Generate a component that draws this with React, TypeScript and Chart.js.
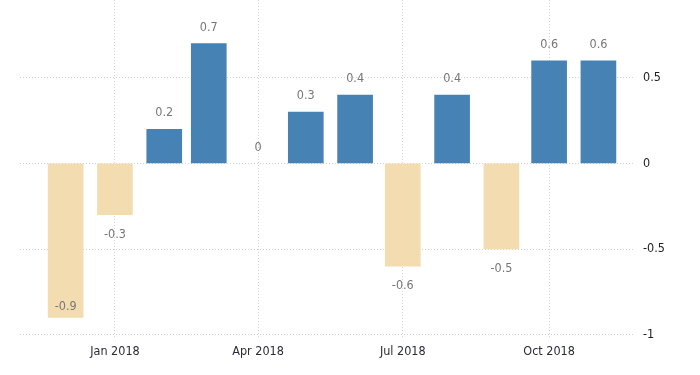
import React, { useEffect, useRef } from "react";
import { Chart, registerables } from "chart.js";

Chart.register(...registerables);

const months = [
  "2017-12", "2018-01", "2018-02", "2018-03", "2018-04", "2018-05",
  "2018-06", "2018-07", "2018-08", "2018-09", "2018-10", "2018-11",
];
const values = [-0.9, -0.3, 0.2, 0.7, 0, 0.3, 0.4, -0.6, 0.4, -0.5, 0.6, 0.6];
const xTickMonths = ["2018-01", "2018-04", "2018-07", "2018-10"];
const xTickLabels = ["Jan 2018", "Apr 2018", "Jul 2018", "Oct 2018"];
const yTicks = [-1, -0.5, 0, 0.5];

const POS = "#4682b4";
const NEG = "#f3dcb0";
const FONT = '"Liberation Sans Narrow", "DejaVu Sans Condensed", "Roboto", sans-serif';

const origin = Date.UTC(2017, 11, 1);
function dayOf(m: string): number {
  const [y, mo] = m.split("-").map(Number);
  return (Date.UTC(y, mo - 1, 1) - origin) / 86400000;
}

const labelPlugin = {
  id: "barLabels",
  afterDatasetsDraw(chart: any) {
    const ctx = chart.ctx;
    const meta = chart.getDatasetMeta(0);
    const area = chart.chartArea;
    ctx.save();
    ctx.font = `12.5px ${FONT}`;
    ctx.fillStyle = "#777777";
    ctx.textAlign = "center";
    ctx.textBaseline = "middle";
    meta.data.forEach((el: any, i: number) => {
      const v = values[i];
      const txt = String(v);
      let ty: number;
      if (v >= 0) {
        ty = el.y - 16;
      } else {
        ty = el.y + 20;
        if (ty + 8 > area.bottom - 5) ty = el.y - 11;
      }
      ctx.fillText(txt, el.x, ty);
    });
    ctx.restore();
  },
};

export default function App() {
  const ref = useRef<HTMLCanvasElement | null>(null);
  useEffect(() => {
    if (!ref.current) return;
    const chart = new Chart(ref.current, {
      type: "bar",
      data: {
        datasets: [
          {
            data: months.map((m, i) => ({ x: dayOf(m), y: values[i] })),
            backgroundColor: values.map((v) => (v > 0 ? POS : v < 0 ? NEG : "rgba(0,0,0,0)")),
            borderWidth: 0,
            barThickness: 35,
          },
        ],
      },
      options: {
        animation: false,
        responsive: false,
        maintainAspectRatio: false,
        layout: { padding: { left: 20, right: 0, top: 0, bottom: 0 } },
        plugins: { legend: { display: false }, tooltip: { enabled: false } },
        scales: {
          x: {
            type: "linear",
            offset: false,
            min: -28.7,
            max: 358,
            grid: { color: "#d2d2d2", drawTicks: false, lineWidth: 1, offset: false },
            border: { display: false, dash: [1, 2] },
            afterBuildTicks: (scale: any) => {
              scale.ticks = xTickMonths.map((m) => ({ value: dayOf(m) }));
            },
            afterFit: (scale: any) => {
              scale.height = 37;
              scale.paddingLeft = 0;
              scale.paddingRight = 0;
            },
            ticks: {
              autoSkip: false,
              maxRotation: 0,
              padding: 6,
              color: "#2b2b3a",
              font: { family: FONT, size: 12.5 },
              callback: (v: any) => {
                const idx = xTickMonths.findIndex((m) => dayOf(m) === v);
                return idx >= 0 ? xTickLabels[idx] : "";
              },
            },
          },
          y: {
            position: "right",
            min: -1.02,
            max: 0.955,
            grid: { color: "#d2d2d2", drawTicks: false, lineWidth: 1 },
            border: { display: false, dash: [1, 2] },
            afterBuildTicks: (scale: any) => {
              scale.ticks = yTicks.map((v) => ({ value: v }));
            },
            afterFit: (scale: any) => {
              scale.width = 65;
              scale.paddingTop = 0;
              scale.paddingBottom = 0;
            },
            ticks: {
              padding: 8,
              color: "#1e1e1e",
              font: { family: FONT, size: 12.5 },
              callback: (v: any) => String(v),
            },
          },
        },
      },
      plugins: [labelPlugin],
    } as any);
    return () => chart.destroy();
  }, []);
  return (
    <div style={{ position: "absolute", left: 0, top: 0, width: 700, height: 375, background: "#fff" }}>
      <canvas ref={ref} width={700} height={375} style={{ display: "block" }} />
    </div>
  );
}
